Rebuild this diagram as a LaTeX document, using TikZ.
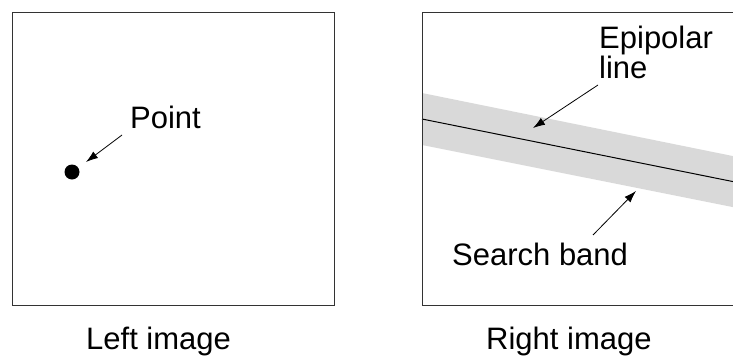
\documentclass[tikz,border=0pt]{standalone}
\usepackage{fontspec}
\setmainfont{Liberation Sans}
\usetikzlibrary{arrows.meta}
\begin{document}
\begin{tikzpicture}[x=1pt,y=-1pt,
  frame/.style={draw=black!80,line width=0.9pt},
  lbl/.style={anchor=base west,inner sep=0pt,font=\fontsize{31}{30}\selectfont},
  pointer/.style={draw,line width=0.8pt,-{Latex[length=12pt,width=8pt]}},
  band/.style={fill=black!15,draw=none},
  epiline/.style={draw,line width=1pt}]
\useasboundingbox (0,0) rectangle (733,356);
\clip (0,0) rectangle (733,356);

% left image frame with the chosen point
\draw[frame] (12,12) rectangle (334,305);
\node[circle,fill=black,inner sep=0pt,minimum size=15pt] (dot) at (72,172) {};
\node[lbl] (ptlbl) at (130,128) {Point};
\coordinate (ptfrom) at (122,135);
\coordinate (ptto) at (86,162);
\draw[pointer] (ptfrom) -- (ptto);
\node[lbl] (leftlbl) at (86,349) {Left image};

% right image: search band around the epipolar line
\coordinate (bandtl) at (422,93);
\coordinate (bandtr) at (745,158.5);
\coordinate (bandbr) at (745,209.5);
\coordinate (bandbl) at (422,145);
\fill[band] (bandtl) -- (bandtr) -- (bandbr) -- (bandbl) -- cycle;
\coordinate (epil) at (422,119);
\coordinate (epir) at (745,184);
\draw[epiline] (epil) -- (epir);
\draw[frame] (422,12) rectangle (745,305);

\node[lbl] (epi1) at (599,48) {Epipolar};
\node[lbl] (epi2) at (599,78) {line};
\coordinate (epifrom) at (598,85);
\coordinate (epito) at (533,128);
\draw[pointer] (epifrom) -- (epito);

\node[lbl] (sblbl) at (452,265) {Search band};
\coordinate (sbfrom) at (593,235);
\coordinate (sbto) at (636,191);
\draw[pointer] (sbfrom) -- (sbto);

\node[lbl] (rightlbl) at (486,349) {Right image};
\end{tikzpicture}
\end{document}
